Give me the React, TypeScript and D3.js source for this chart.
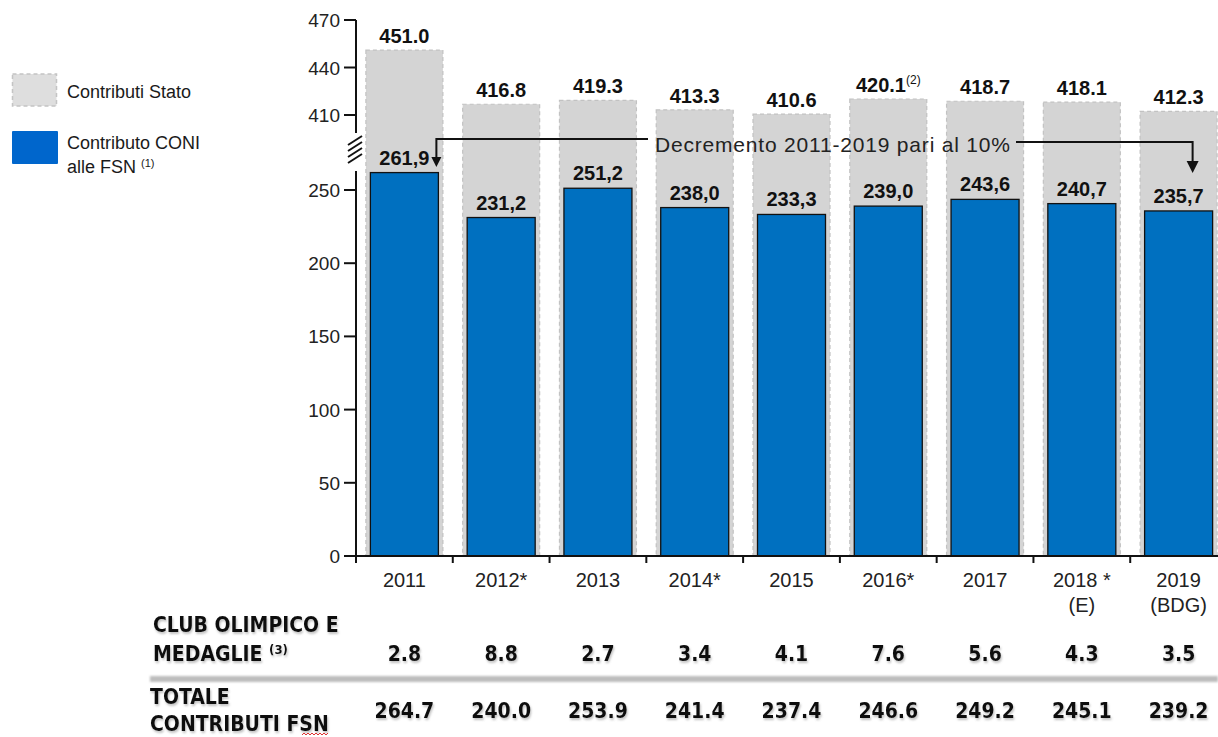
import React from "react";
import * as d3 from "d3";

const years = ["2011", "2012*", "2013", "2014*", "2015", "2016*", "2017", "2018 *", "2019"];
const yearsLine2 = ["", "", "", "", "", "", "", "(E)", "(BDG)"];
const contributiStato = [451.0, 416.8, 419.3, 413.3, 410.6, 420.1, 418.7, 418.1, 412.3];
const contributoConi = [261.9, 231.2, 251.2, 238.0, 233.3, 239.0, 243.6, 240.7, 235.7];
const clubOlimpico = [2.8, 8.8, 2.7, 3.4, 4.1, 7.6, 5.6, 4.3, 3.5];
const totaleFsn = [264.7, 240.0, 253.9, 241.4, 237.4, 246.6, 249.2, 245.1, 239.2];
const lowTicks = [0, 50, 100, 150, 200, 250];
const highTicks = [410, 440, 470];

const W = 1218;
const H = 737;
const ARIAL = "'Liberation Sans', Arial, sans-serif";
const TAHOMA = "'DejaVu Sans Condensed', 'DejaVu Sans', sans-serif";

export default function App() {
  const x = d3.scaleBand<string>().domain(years).range([356, 1227]).paddingInner(0).paddingOuter(0);
  const bw = x.bandwidth();
  const yLow = d3.scaleLinear().domain([0, 250]).range([556, 190]);
  const yHigh = d3.scaleLinear().domain([410, 470]).range([115, 20]);
  const cx = (i: number) => (x(years[i]) as number) + bw / 2;
  const grayW = 77;
  const blueW = 68;
  const fmtDot = d3.format(".1f");
  const fmtComma = (v: number) => fmtDot(v).replace(".", ",");
  const axisX = 356;

  const leftArrowX = cx(0) + 32;
  const rightArrowX = cx(8) + 14;

  return (
    <svg
      width={W}
      height={H}
      style={{ position: "absolute", left: 0, top: 0, background: "#fff" }}
    >
      <defs>
        <filter id="shadow" x="-20%" y="-20%" width="140%" height="160%">
          <feDropShadow dx="1" dy="2" stdDeviation="1" floodColor="#777" floodOpacity="0.45" />
        </filter>
        <filter id="blur" x="-5%" y="-100%" width="110%" height="300%">
          <feGaussianBlur stdDeviation="1.2" />
        </filter>
      </defs>

      {/* Legend */}
      <rect x={12.5} y={74} width={44} height={32} fill="#dedede" stroke="#c4c4c4" strokeWidth={1.5} strokeDasharray="4 3" />
      <text x={67} y={98} fontFamily={ARIAL} fontSize={18} fill="#1a1a1a">Contributi Stato</text>
      <rect x={12} y={131} width={46} height={33} fill="#0066CC" rx={1} />
      <text x={67} y={149} fontFamily={ARIAL} fontSize={18} fill="#1a1a1a">Contributo CONI</text>
      <text x={67} y={173} fontFamily={ARIAL} fontSize={18} fill="#1a1a1a">
        alle FSN <tspan fontSize={11} dy={-6}>(1)</tspan>
      </text>

      {/* Gray bars */}
      {contributiStato.map((v, i) => (
        <rect
          key={"g" + i}
          x={cx(i) - grayW / 2}
          y={yHigh(v)}
          width={grayW}
          height={yLow(0) - yHigh(v)}
          fill="#d4d4d4"
          stroke="#c2c2c2"
          strokeWidth={1.2}
          strokeDasharray="4 3"
        />
      ))}
      {/* Blue bars */}
      {contributoConi.map((v, i) => (
        <rect
          key={"b" + i}
          x={cx(i) - blueW / 2}
          y={yLow(v)}
          width={blueW}
          height={yLow(0) - yLow(v)}
          fill="#0070C0"
          stroke="#111"
          strokeWidth={1.3}
        />
      ))}

      {/* Gray labels */}
      {contributiStato.map((v, i) => (
        <text
          key={"gl" + i}
          x={cx(i)}
          y={yHigh(v) - 7}
          textAnchor="middle"
          fontFamily={ARIAL}
          fontWeight="bold"
          fontSize={20}
          fill="#111"
        >
          {fmtDot(v)}
          {i === 5 ? (
            <tspan fontWeight="normal" fontSize={12} dy={-8}>(2)</tspan>
          ) : null}
        </text>
      ))}
      {/* Blue labels */}
      {contributoConi.map((v, i) => (
        <text
          key={"bl" + i}
          x={cx(i)}
          y={yLow(v) - 8}
          textAnchor="middle"
          fontFamily={ARIAL}
          fontWeight="bold"
          fontSize={20}
          fill="#111"
        >
          {fmtComma(v)}
        </text>
      ))}

      {/* Y axis upper */}
      <line x1={axisX} x2={axisX} y1={yHigh(470)} y2={133} stroke="#111" strokeWidth={2} />
      {highTicks.map((t) => (
        <g key={"ht" + t}>
          <line x1={axisX - 12} x2={axisX} y1={yHigh(t)} y2={yHigh(t)} stroke="#111" strokeWidth={2} />
          <text x={axisX - 16} y={yHigh(t) + 7} textAnchor="end" fontFamily={ARIAL} fontSize={19} fill="#222">
            {t}
          </text>
        </g>
      ))}
      {/* Break marks */}
      {[0, 1, 2, 3].map((k) => (
        <line
          key={"brk" + k}
          x1={axisX - 8}
          x2={axisX + 6}
          y1={145 + k * 6}
          y2={136 + k * 6}
          stroke="#111"
          strokeWidth={2}
        />
      ))}
      {/* Y axis lower */}
      <line x1={axisX} x2={axisX} y1={171} y2={yLow(0)} stroke="#111" strokeWidth={2} />
      {lowTicks.map((t) => (
        <g key={"lt" + t}>
          <line x1={axisX - 12} x2={axisX} y1={yLow(t)} y2={yLow(t)} stroke="#111" strokeWidth={2} />
          <text x={axisX - 16} y={yLow(t) + 7} textAnchor="end" fontFamily={ARIAL} fontSize={19} fill="#222">
            {t}
          </text>
        </g>
      ))}

      {/* X axis */}
      <line x1={axisX - 1} x2={W} y1={yLow(0)} y2={yLow(0)} stroke="#111" strokeWidth={2} />
      {years.map((y, i) => (
        <line
          key={"xt" + i}
          x1={x(y) as number}
          x2={x(y) as number}
          y1={yLow(0)}
          y2={yLow(0) + 7}
          stroke="#111"
          strokeWidth={2}
        />
      ))}
      {years.map((y, i) => (
        <g key={"xl" + i}>
          <text x={cx(i)} y={587} textAnchor="middle" fontFamily={ARIAL} fontSize={20} fill="#222">
            {y}
          </text>
          {yearsLine2[i] ? (
            <text x={cx(i)} y={612} textAnchor="middle" fontFamily={ARIAL} fontSize={20} fill="#222">
              {yearsLine2[i]}
            </text>
          ) : null}
        </g>
      ))}

      {/* Annotation */}
      <path
        d={`M${leftArrowX},161 L${leftArrowX},139 L648,139`}
        fill="none"
        stroke="#111"
        strokeWidth={2}
      />
      <path
        d={`M${leftArrowX - 5},157 L${leftArrowX + 5},157 L${leftArrowX},167 Z`}
        fill="#111"
      />
      <path
        d={`M1016,142 L${rightArrowX},142 L${rightArrowX},163`}
        fill="none"
        stroke="#111"
        strokeWidth={2}
      />
      <path
        d={`M${rightArrowX - 6},161 L${rightArrowX + 6},161 L${rightArrowX},173 Z`}
        fill="#111"
      />
      <text
        x={655}
        y={152}
        fontFamily={ARIAL}
        fontSize={21}
        fill="#222"
        textLength={355}
        lengthAdjust="spacing"
      >
        Decremento 2011-2019 pari al 10%
      </text>

      {/* Table */}
      <text x={153} y={632} fontFamily={TAHOMA} fontWeight="bold" fontSize={21} fill="#111" filter="url(#shadow)">
        CLUB OLIMPICO E
      </text>
      <text x={153} y={661} fontFamily={TAHOMA} fontWeight="bold" fontSize={21} fill="#111" filter="url(#shadow)">
        MEDAGLIE <tspan fontSize={13} dy={-7}>(3)</tspan>
      </text>
      {clubOlimpico.map((v, i) => (
        <text
          key={"c" + i}
          x={cx(i)}
          y={661}
          textAnchor="middle"
          fontFamily={TAHOMA}
          fontWeight="bold"
          fontSize={21}
          fill="#111"
          filter="url(#shadow)"
        >
          {fmtDot(v)}
        </text>
      ))}
      <rect x={150} y={676} width={W - 150} height={6} fill="#bdbdbd" filter="url(#blur)" />
      <text x={150} y={704} fontFamily={TAHOMA} fontWeight="bold" fontSize={21} fill="#111" filter="url(#shadow)">
        TOTALE
      </text>
      <text x={150} y={731} fontFamily={TAHOMA} fontWeight="bold" fontSize={21} fill="#111" filter="url(#shadow)">
        CONTRIBUTI FSN
      </text>
      <path
        d={d3.range(0, 14).map((k) => `${k === 0 ? "M" : "L"}${302 + k * 2},${k % 2 === 0 ? 735 : 733}`).join(" ")}
        fill="none"
        stroke="#e03030"
        strokeWidth={1}
      />
      {totaleFsn.map((v, i) => (
        <text
          key={"t" + i}
          x={cx(i)}
          y={718}
          textAnchor="middle"
          fontFamily={TAHOMA}
          fontWeight="bold"
          fontSize={21}
          fill="#111"
          filter="url(#shadow)"
        >
          {fmtDot(v)}
        </text>
      ))}
    </svg>
  );
}
